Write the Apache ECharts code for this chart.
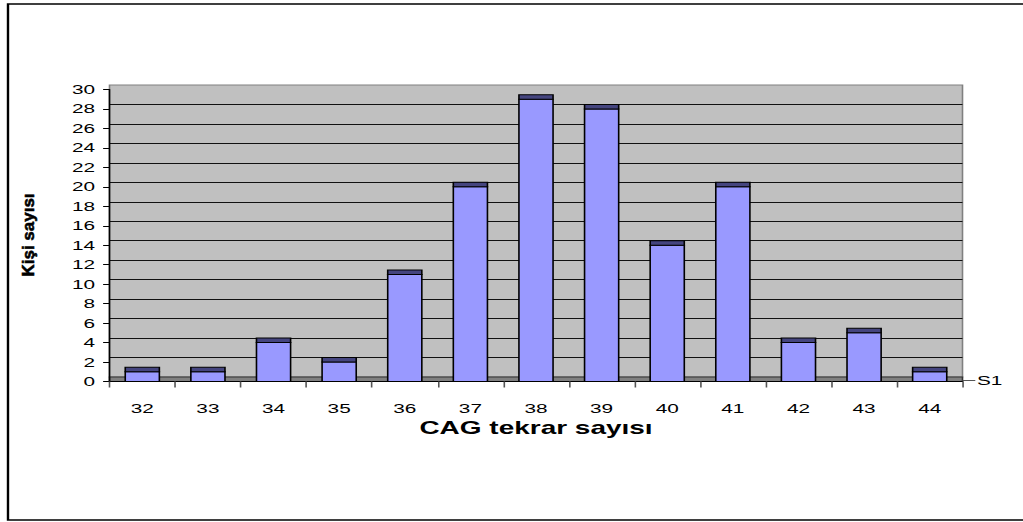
<!DOCTYPE html>
<html>
<head>
<meta charset="utf-8">
<script src="https://cdn.jsdelivr.net/npm/echarts@6/dist/echarts.min.js"></script>
<style>
  html, body { margin: 0; padding: 0; background: #fff; overflow: hidden; }
  /* chart is laid out narrow and stretched sideways to the page width */
  #chart { width: 640px; height: 522px; transform: scaleX(1.5984375); transform-origin: 0 0; }
</style>
</head>
<body>
<div id="chart"></div>
<script>
// CAG repeat counts and number of people per count
const categories = ['32', '33', '34', '35', '36', '37', '38', '39', '40', '41', '42', '43', '44'];
const counts = [1, 1, 4, 2, 11, 20, 29, 28, 14, 20, 4, 5, 1];
const yTicks = { min: 0, max: 30, interval: 2 };
const seriesNames = ['S1'];
const xTitle = 'CAG tekrar sayısı';
const yTitle = 'Kişi sayısı';

// layout (in the un-stretched coordinate space)
const SX = 1.5984375;
const GL = 109.5 / SX;
const GW = 853 / SX;
const GT = 89.5;
const GH = 292;
const DEPTH = 4.5;         // 3D depth of the back wall / bar tops
const BAR_RATIO = 0.52;
const FONT = 'Arial, "Liberation Sans", sans-serif';

const chart = echarts.init(document.getElementById('chart'), null, { renderer: 'svg' });

chart.setOption({
  backgroundColor: '#ffffff',
  animation: false,
  grid: [
    { left: GL, top: GT - DEPTH, width: GW, height: GH, show: true,
      backgroundColor: '#C0C0C0', borderColor: '#808080', borderWidth: 1 },
    { left: GL, top: GT, width: GW, height: GH }
  ],
  xAxis: [
    { gridIndex: 0, type: 'category', data: categories, show: false },
    { gridIndex: 1, type: 'category', data: categories, z: 5,
      axisLine: { show: true, lineStyle: { color: '#000', width: 1 } },
      axisTick: { show: true, length: 6, lineStyle: { color: '#555' } },
      axisLabel: { margin: 20, fontSize: 13, color: '#000', fontFamily: FONT },
      name: xTitle, nameLocation: 'middle', nameGap: 36,
      nameTextStyle: { fontSize: 17.5, fontWeight: 'bold', color: '#000', fontFamily: FONT }
    }
  ],
  yAxis: [
    { gridIndex: 0, type: 'value', min: yTicks.min, max: yTicks.max, interval: yTicks.interval,
      axisLine: { show: false }, axisTick: { show: false }, axisLabel: { show: false },
      splitLine: { show: true, showMaxLine: false, lineStyle: { color: '#111', width: 1 } } },
    { gridIndex: 1, type: 'value', min: yTicks.min, max: yTicks.max, interval: yTicks.interval, z: 5,
      axisLine: { show: true, lineStyle: { color: '#000', width: 1 } },
      axisTick: { show: true, length: 4, lineStyle: { color: '#000' } },
      axisLabel: { margin: 9, fontSize: 13, color: '#000', fontFamily: FONT },
      splitLine: { show: false } }
  ],
  series: [{
    name: seriesNames[0],
    type: 'custom',
    xAxisIndex: 1,
    yAxisIndex: 1,
    z: 3,
    data: counts.map((v, i) => [i, v]),
    encode: { x: 0, y: 1 },
    renderItem: function (params, api) {
      const i = api.value(0);
      const v = api.value(1);
      const top = api.coord([i, v]);
      const base = api.coord([i, 0]);
      const bw = api.size([1, 0])[0] * BAR_RATIO;
      const x0 = top[0] - bw / 2;
      return {
        type: 'group',
        children: [
          { type: 'rect', shape: { x: x0, y: top[1], width: bw, height: base[1] - top[1] },
            style: { fill: '#9999FF', stroke: '#000', lineWidth: 1 } },
          { type: 'rect', shape: { x: x0, y: top[1] - DEPTH, width: bw, height: DEPTH },
            style: { fill: '#45457F', stroke: '#000', lineWidth: 1 } }
        ]
      };
    }
  }],
  graphic: [
    // outer frame
    { type: 'rect', z: 0, shape: { x: 5, y: 4, width: 700, height: 516 },
      style: { fill: 'none', stroke: '#000', lineWidth: 1.5 } },
    // floor of the 3D plot
    { type: 'rect', z: 1, shape: { x: GL, y: GT + GH - DEPTH, width: GW, height: DEPTH },
      style: { fill: '#808080', stroke: '#333', lineWidth: 1 } },
    // series axis tick and label
    { type: 'line', z: 5, shape: { x1: GL + GW, y1: GT + GH - 1, x2: GL + GW + 8, y2: GT + GH - 1 },
      style: { stroke: '#555', lineWidth: 1 } },
    { type: 'text', z: 5, x: GL + GW + 9, y: GT + GH - 1,
      style: { text: seriesNames[0], fill: '#000', font: '13px ' + FONT, verticalAlign: 'middle', align: 'left' } },
    // y-axis title, drawn condensed
    { type: 'text', z: 5, x: 29 / SX, y: 235, rotation: Math.PI / 2, scaleX: 1, scaleY: 0.6,
      style: { text: yTitle, fill: '#000', stroke: '#000', lineWidth: 0.6,
               font: 'bold 17px ' + FONT, align: 'center', verticalAlign: 'middle' } }
  ]
});
</script>
</body>
</html>
